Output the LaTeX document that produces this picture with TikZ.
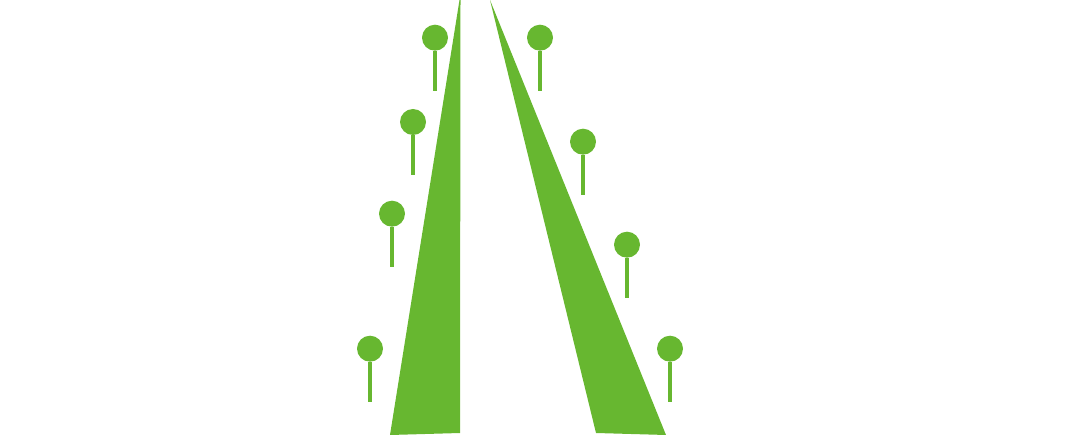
\documentclass[tikz,border=0pt]{standalone}
\usepackage{tikz}
\definecolor{leaf_green}{RGB}{103, 183, 48}
\tikzstyle{crown}=[circle,fill=leaf_green,draw=none,inner sep=0pt,
  minimum size=26pt]
\tikzstyle{trunk}=[draw=leaf_green,line width=4pt]
\begin{document}
\begin{tikzpicture}[x=1pt,y=-1pt]
        \useasboundingbox (0,0) rectangle (1087,435);
        % road edges
        \fill[leaf_green] (459.5,0) -- (460.5,0) -- (460,433) -- (390,435) -- cycle;
        \fill[leaf_green] (490,0) -- (666,435) -- (596,433) -- cycle;
        % left trees
        \node[style=crown] (l1) at (435,37.7) {};
        \node[style=crown] (l2) at (413,122) {};
        \node[style=crown] (l3) at (392,213.7) {};
        \node[style=crown] (l4) at (370,348.7) {};
        \coordinate (l1b) at (435,90.7);
        \coordinate (l2b) at (413,175);
        \coordinate (l3b) at (392,266.7);
        \coordinate (l4b) at (370,401.7);
        % right trees
        \node[style=crown] (r1) at (540,37.7) {};
        \node[style=crown] (r2) at (583,141.7) {};
        \node[style=crown] (r3) at (627,244.7) {};
        \node[style=crown] (r4) at (670,348.7) {};
        \coordinate (r1b) at (540,90.7);
        \coordinate (r2b) at (583,194.7);
        \coordinate (r3b) at (627,297.7);
        \coordinate (r4b) at (670,401.7);
        \draw[style=trunk] (l1) to (l1b);
        \draw[style=trunk] (l2) to (l2b);
        \draw[style=trunk] (l3) to (l3b);
        \draw[style=trunk] (l4) to (l4b);
        \draw[style=trunk] (r1) to (r1b);
        \draw[style=trunk] (r2) to (r2b);
        \draw[style=trunk] (r3) to (r3b);
        \draw[style=trunk] (r4) to (r4b);
    \end{tikzpicture}
\end{document}
